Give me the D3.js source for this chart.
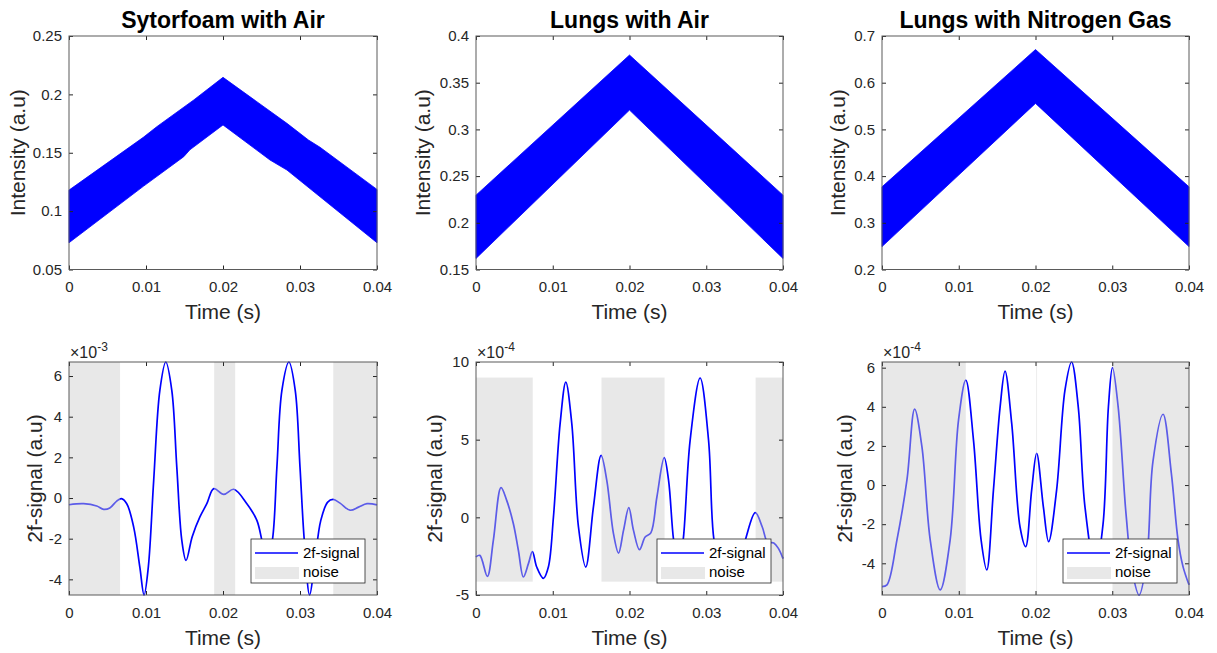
<!DOCTYPE html>
<html>
<head>
<meta charset="utf-8">
<script src="https://cdn.jsdelivr.net/npm/d3@7"></script>
<style>
body { margin: 0; background: #fff; }
text { font-family: "Liberation Sans", Arial, Helvetica, sans-serif; }
.tick text { font-size: 15px; fill: #262626; }
.tick line { stroke: #262626; }
</style>
</head>
<body>
<svg id="fig" width="1217" height="653"></svg>
<script>
// ---- data ----
var timeTicks = [0, 0.01, 0.02, 0.03, 0.04];
var titles = ["Sytorfoam with Air", "Lungs with Air", "Lungs with Nitrogen Gas"];

// top row: envelope of the modulated intensity ramp, [time, intensity]
var foamUpper = [[0, 0.118], [0.00965, 0.1632], [0.0114, 0.1723], [0.0162, 0.1952], [0.020, 0.2146],
                 [0.0283, 0.1752], [0.0311, 0.1609], [0.0326, 0.1547], [0.04, 0.1186]];
var foamLower = [[0, 0.0729], [0.00965, 0.1212], [0.0149, 0.1466], [0.0157, 0.1525],
                 [0.020, 0.1738], [0.0261, 0.1438], [0.0283, 0.1352], [0.04, 0.0729]];
var airUpper = [[0, 0.2296], [0.02, 0.3796], [0.04, 0.2296]];
var airLower = [[0, 0.1618], [0.02, 0.3207], [0.04, 0.1618]];
var n2Upper = [[0, 0.377], [0.02, 0.671], [0.04, 0.377]];
var n2Lower = [[0, 0.249], [0.02, 0.5557], [0.04, 0.249]];

var intensityDomains = [[0.05, 0.25], [0.15, 0.4], [0.2, 0.7]];
var intensityTicks = [[0.05, 0.1, 0.15, 0.2, 0.25],
                      [0.15, 0.2, 0.25, 0.3, 0.35, 0.4],
                      [0.2, 0.3, 0.4, 0.5, 0.6, 0.7]];

// bottom row: 2f-signal, [time, value in units of the axis exponent]
var signalFoam = [[0, -0.33], [0.0019, -0.28], [0.0036, -0.39], [0.0045, -0.56], [0.0053, -0.49],
  [0.0062, -0.15], [0.0068, -0.03], [0.0075, -0.28], [0.0084, -1.43], [0.0092, -3.4], [0.00975, -4.77],
  [0.0103, -3.4], [0.011, 0.87], [0.0118, 5.3], [0.01257, 6.69], [0.01335, 5.3], [0.014, 1.52],
  [0.01465, -2.08], [0.0152, -3.07], [0.016, -1.9], [0.017, -0.93], [0.0179, -0.28], [0.0188, 0.46],
  [0.0201, 0.18], [0.0214, 0.43], [0.0231, -0.28], [0.0244, -1.1], [0.0252, -2.3], [0.0258, -2.9],
  [0.0264, -2.1], [0.027, 1.52], [0.02765, 5.3], [0.02856, 6.69], [0.02938, 5.3], [0.03, 1.52],
  [0.03055, -2.05], [0.03125, -4.77], [0.0319, -3.2], [0.0327, -1.1], [0.0336, -0.2], [0.0343, -0.07],
  [0.0352, -0.25], [0.0365, -0.6], [0.0376, -0.45], [0.0387, -0.28], [0.04, -0.34]];
var signalLungsAir = [[0, -2.55], [0.0005, -2.45], [0.00148, -3.8], [0.00226, -1.48], [0.00326, 1.91],
  [0.004, 1.09], [0.00487, -0.41], [0.00552, -2.12], [0.00617, -3.84], [0.00683, -2.98], [0.00735, -2.21],
  [0.00791, -3.2], [0.00878, -3.93], [0.00943, -3.2], [0.01009, 0.02], [0.01096, 6.03], [0.0117, 8.71],
  [0.01248, 6.03], [0.01335, -0.62], [0.0143, -3.2], [0.0153, 0.67], [0.0163, 3.99], [0.01704, 2.38],
  [0.01791, -1.05], [0.01857, -2.3], [0.01922, -0.84], [0.01991, 0.62], [0.02052, -0.84], [0.0213, -2.08],
  [0.02204, -1.27], [0.02278, -1.0], [0.02357, 1.31], [0.02452, 3.84], [0.02509, 2.38], [0.02574, -1.44],
  [0.0264, -3.3], [0.027, -1.44], [0.0279, 4.96], [0.0292, 8.97], [0.0303, 4.96], [0.031, -1.44],
  [0.032, -3.6], [0.033, -4.0], [0.0341, -3.2], [0.0351, -1.44], [0.03639, 0.3], [0.0373, -0.62],
  [0.038, -1.6], [0.0388, -1.65], [0.0394, -2.0], [0.04, -2.66]];
var signalLungsN2 = [[0, -5.19], [0.00065, -5.1], [0.00195, -2.8], [0.00325, 0.26], [0.00425, 3.88],
  [0.0052, 1.96], [0.00628, -2.8], [0.00758, -5.36], [0.00888, -2.8], [0.00997, 3.32], [0.01092, 5.36],
  [0.01192, 2.3], [0.01291, -2.8], [0.01365, -4.34], [0.01452, -0.26], [0.01539, 4.0], [0.01603, 5.82],
  [0.0169, 3.15], [0.01798, -2.13], [0.01872, -3.15], [0.0195, -0.26], [0.02015, 1.62], [0.02102, -1.1],
  [0.02171, -2.89], [0.02275, -0.26], [0.02384, 4.85], [0.0247, 6.29], [0.02557, 4.0], [0.02644, -1.1],
  [0.0278, -4.3], [0.0288, -2.0], [0.0295, 4.0], [0.03003, 6.0], [0.03077, 4.0], [0.0318, -1.5],
  [0.0326, -4.4], [0.0335, -5.62], [0.0345, -3.8], [0.0353, 1.2], [0.03662, 3.62], [0.0377, 0.6],
  [0.03857, -2.8], [0.03922, -4.17], [0.04, -5.1]];

var signalDomains = [[-4.77, 6.69], [-5, 10], [-5.62, 6.29]];
var signalTicks = [[-4, -2, 0, 2, 4, 6], [-5, 0, 5, 10], [-4, -2, 0, 2, 4, 6]];
var signalExp = ["-3", "-4", "-4"];

// noise windows [start, end] in seconds; middle panel patches have limited height
var noiseFoam = [[0, 0.00663], [0.01885, 0.02158], [0.03432, 0.04]];
var noiseLungsAir = [[0, 0.00739], [0.01635, 0.02457], [0.03643, 0.04]];
var noiseLungsN2 = [[0, 0.01092], [0.0201, 0.0202], [0.03003, 0.04]];
var noiseHeight = [null, [-4.14, 9], null];

// ---- layout ----
var svg = d3.select("#fig");
var cols = [[69, 377], [476, 783], [882, 1189]];
var rows = [[269.5, 36], [595, 362]];   // [bottom, top]
var topLabelX = [25, 430, 845];
var botLabelX = [42, 442, 852];
var blue = "#0000ff";

var bands = [[foamUpper, foamLower], [airUpper, airLower], [n2Upper, n2Lower]];
var signals = [signalFoam, signalLungsAir, signalLungsN2];
var noises = [noiseFoam, noiseLungsAir, noiseLungsN2];

function frame(g, x, y, yTicks) {
  g.append("g").attr("transform", "translate(0," + y.range()[0] + ")")
    .call(d3.axisBottom(x).tickValues(timeTicks).tickFormat(String).tickSize(-4).tickPadding(12));
  g.append("g").attr("transform", "translate(0," + y.range()[1] + ")")
    .call(d3.axisTop(x).tickValues(timeTicks).tickFormat("").tickSize(-4));
  g.append("g").attr("transform", "translate(" + x.range()[0] + ",0)")
    .call(d3.axisLeft(y).tickValues(yTicks).tickFormat(String).tickSize(-4).tickPadding(7));
  g.append("g").attr("transform", "translate(" + x.range()[1] + ",0)")
    .call(d3.axisRight(y).tickValues(yTicks).tickFormat("").tickSize(-4));
  g.selectAll(".domain").remove();
  g.append("rect")
    .attr("x", x.range()[0]).attr("y", y.range()[1])
    .attr("width", x.range()[1] - x.range()[0])
    .attr("height", y.range()[0] - y.range()[1])
    .attr("fill", "none").attr("stroke", "#5a5a5a").attr("stroke-width", 1);
}

function xlabel(g, x, yb) {
  g.append("text").attr("x", (x.range()[0] + x.range()[1]) / 2).attr("y", yb)
    .attr("text-anchor", "middle").style("font-size", "21px").attr("fill", "#262626")
    .text("Time (s)");
}

function ylabel(g, xb, yc, txt) {
  g.append("text").attr("transform", "translate(" + xb + "," + yc + ") rotate(-90)")
    .attr("text-anchor", "middle").style("font-size", "21px").attr("fill", "#262626")
    .text(txt);
}

// ---- top row: intensity ----
bands.forEach(function(b, i) {
  var g = svg.append("g");
  var x = d3.scaleLinear().domain([0, 0.04]).range(cols[i]);
  var y = d3.scaleLinear().domain(intensityDomains[i]).range(rows[0]);
  var poly = b[0].concat(b[1].slice().reverse());
  var line = d3.line().x(function(d) { return x(d[0]); }).y(function(d) { return y(d[1]); });
  g.append("path").attr("d", line(poly) + "Z").attr("fill", blue).attr("stroke", blue).attr("stroke-width", 0.8);
  frame(g, x, y, intensityTicks[i]);
  xlabel(g, x, 319);
  ylabel(g, topLabelX[i], (rows[0][0] + rows[0][1]) / 2, "Intensity (a.u)");
  g.append("text").attr("x", (cols[i][0] + cols[i][1]) / 2).attr("y", 28)
    .attr("text-anchor", "middle").style("font-size", "23px").style("font-weight", "bold")
    .attr("fill", "#000").text(titles[i]);
});

// ---- bottom row: 2f-signal ----
signals.forEach(function(s, i) {
  var g = svg.append("g");
  var x = d3.scaleLinear().domain([0, 0.04]).range(cols[i]);
  var y = d3.scaleLinear().domain(signalDomains[i]).range(rows[1]);
  var line = d3.line().curve(d3.curveCatmullRom.alpha(0.5))
    .x(function(d) { return x(d[0]); }).y(function(d) { return y(d[1]); });
  g.append("path").attr("d", line(s)).attr("fill", "none").attr("stroke", blue).attr("stroke-width", 1.7);

  var hy = noiseHeight[i] || signalDomains[i];
  g.selectAll(".noise").data(noises[i]).enter().append("rect").attr("class", "noise")
    .attr("x", function(d) { return x(d[0]); })
    .attr("width", function(d) { return x(d[1]) - x(d[0]); })
    .attr("y", y(hy[1]))
    .attr("height", y(hy[0]) - y(hy[1]))
    .attr("fill", "#cccccc").attr("fill-opacity", 0.45);

  frame(g, x, y, signalTicks[i]);
  xlabel(g, x, 645);
  ylabel(g, botLabelX[i], (rows[1][0] + rows[1][1]) / 2, "2f-signal (a.u)");

  g.append("text").attr("x", cols[i][0] + 1).attr("y", 358)
    .style("font-size", "16px").attr("fill", "#262626").text("\u00d710")
    .append("tspan").attr("dy", -7).style("font-size", "12px").text(signalExp[i]);

  var lg = g.append("g").attr("transform", "translate(" + (cols[i][1] - 126) + ",539)");
  lg.append("rect").attr("width", 114).attr("height", 44)
    .attr("fill", "#fff").attr("stroke", "#262626").attr("stroke-width", 0.8);
  lg.append("line").attr("x1", 4).attr("x2", 47).attr("y1", 14).attr("y2", 14)
    .attr("stroke", blue).attr("stroke-width", 1.7);
  lg.append("text").attr("x", 52).attr("y", 19).style("font-size", "15px").attr("fill", "#000").text("2f-signal");
  lg.append("rect").attr("x", 4).attr("y", 28).attr("width", 44).attr("height", 12)
    .attr("fill", "#cccccc").attr("fill-opacity", 0.45);
  lg.append("text").attr("x", 52).attr("y", 38).style("font-size", "15px").attr("fill", "#000").text("noise");
});
</script>
</body>
</html>
